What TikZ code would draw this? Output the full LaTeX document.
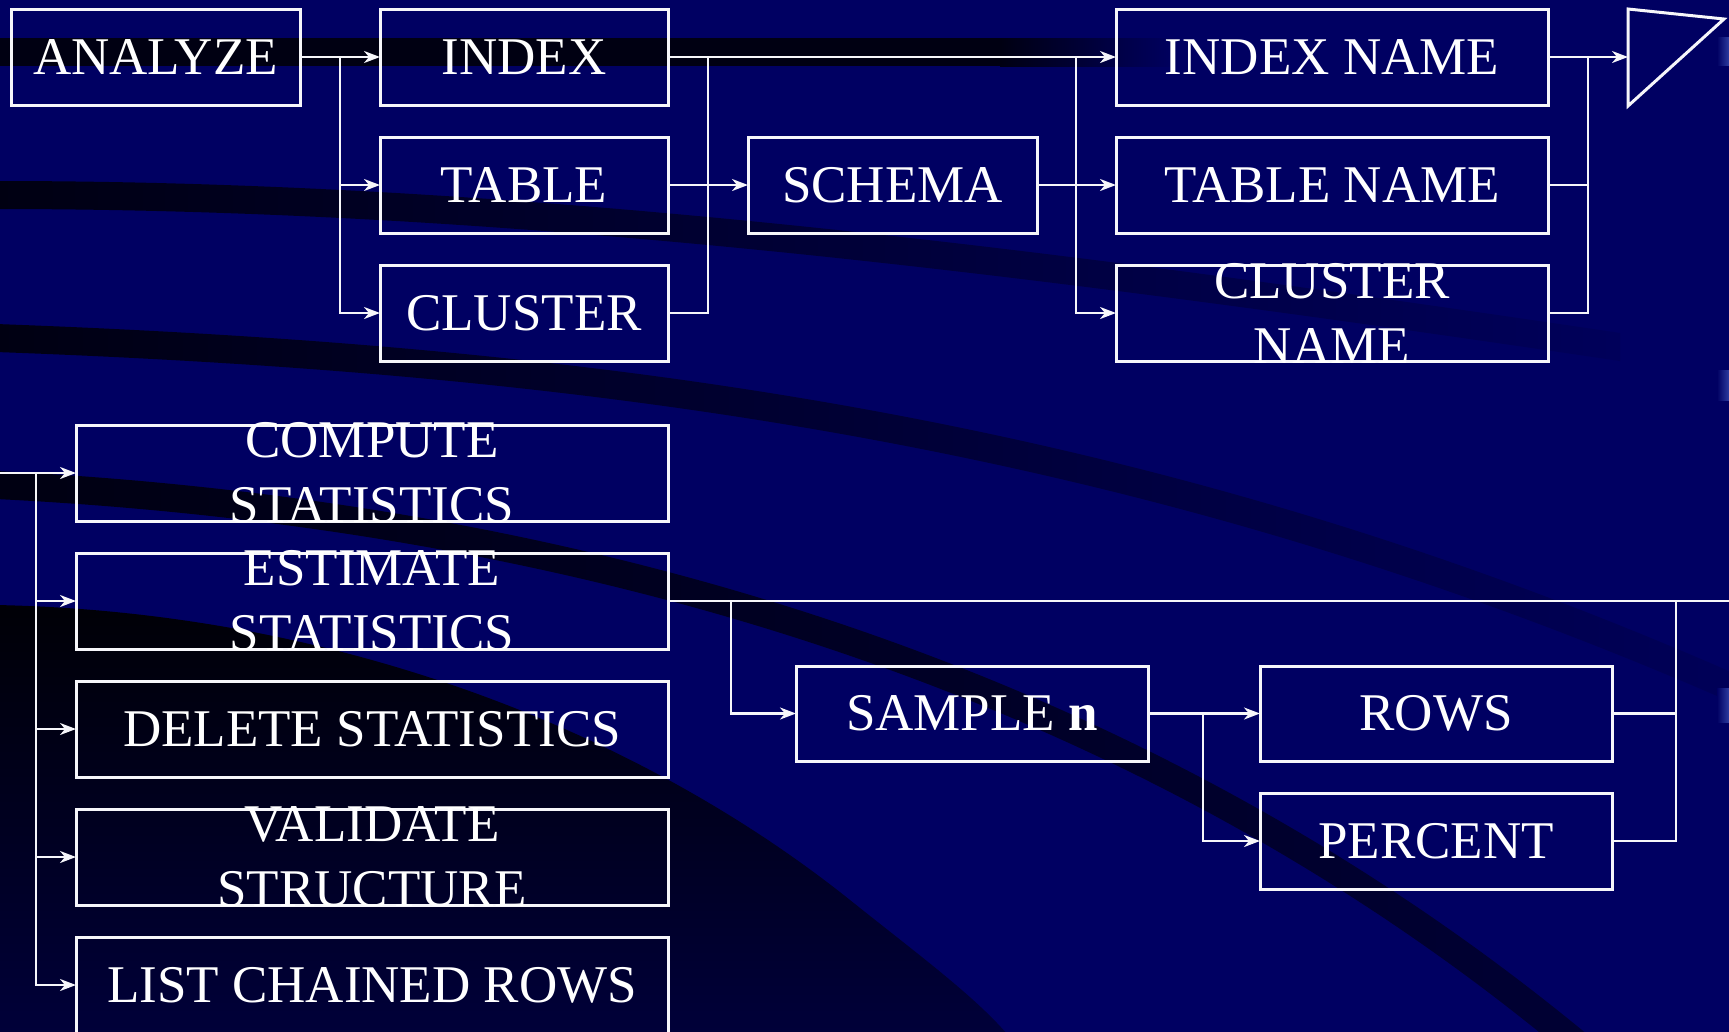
\documentclass[tikz,border=0pt]{standalone}
\usepackage{fontspec}
\setmainfont{Liberation Serif}
\usetikzlibrary{arrows.meta}
\definecolor{bg}{RGB}{0,0,98}
\definecolor{bandblack}{RGB}{0,0,18}
\definecolor{banddark}{RGB}{0,0,52}
\definecolor{deep}{RGB}{0,0,6}
\definecolor{lowdark}{RGB}{0,0,58}
\definecolor{marklight}{RGB}{60,80,180}
\definecolor{lineW}{RGB}{246,246,250}
\tikzset{
  boxst/.style={draw=lineW, line width=3pt, inner sep=0pt, outer sep=0pt},
  txt/.style={text=white, font=\fontsize{53}{65}\selectfont, align=center, inner sep=0pt},
  conn/.style={draw=lineW, line width=2.4pt},
  arr/.style={conn, -{Stealth[length=16pt,width=12pt,inset=5pt]}},
}
\newcommand\mkbox[6]{%
  \node[boxst, minimum width={#4-#2}, minimum height={#5-#3}] (#1) at ({(#2+#4)/2},{(#3+#5)/2}) {};
  \node[txt] (#1t) at (#1.center) {#6};}
\begin{document}
\begin{tikzpicture}[x=1pt,y=-1pt]
\begin{scope}
\clip (-4,-4) rectangle (1733,1035);
\fill[bg] (-4,-4) rectangle (1733,1035);
% background swooshes
\fill[bandblack] (-4,38) rectangle (1000,66);
\shade[left color=bandblack, right color=bg] (1000,38) rectangle (1180,66);
\shade[left color=bandblack, middle color=bandblack!75!bg, right color=bg!92!black]
  (-4,181) .. controls (500,181) and (1000,241) .. (1620,333) -- (1620,361)
  .. controls (1000,269) and (500,209) .. (-4,209) -- cycle;
\shade[left color=bandblack, middle color=bandblack!65!bg, right color=bg!90!black]
  (-4,324) .. controls (600,346) and (1150,416) .. (1740,676) -- (1740,706)
  .. controls (1150,446) and (600,374) .. (-4,352) -- cycle;
\shade[left color=bandblack, right color=banddark]
  (-4,471) .. controls (500,496) and (1100,626) .. (1600,1045) -- (1555,1045)
  .. controls (1080,654) and (500,524) .. (-4,499) -- cycle;
\shade[top color=deep, bottom color=lowdark]
  (-4,605) .. controls (350,612) and (650,740) .. (850,900)
  .. controls (920,956) and (980,1000) .. (1012,1040) -- (-4,1040) -- cycle;
\shade[left color=bg, right color=marklight] (1717,37) rectangle (1733,65);
\shade[left color=bg, right color=marklight] (1717,370) rectangle (1733,400);
\shade[left color=bg, right color=marklight] (1717,688) rectangle (1733,722);
% boxes
\mkbox{analyze}{11}{9}{300}{105}{ANALYZE}
\mkbox{index}{380}{9}{668}{105}{INDEX}
\mkbox{table}{380}{137}{668}{233}{TABLE}
\mkbox{cluster}{380}{265}{668}{361}{CLUSTER}
\mkbox{schema}{748}{137}{1037}{233}{SCHEMA}
\mkbox{indexname}{1116}{9}{1548}{105}{INDEX NAME}
\mkbox{tablename}{1116}{137}{1548}{233}{TABLE NAME}
\mkbox{clustername}{1116}{265}{1548}{361}{CLUSTER\\NAME}
\mkbox{compute}{76}{425}{668}{521}{COMPUTE\\STATISTICS}
\mkbox{estimate}{76}{553}{668}{649}{ESTIMATE\\STATISTICS}
\mkbox{delete}{76}{681}{668}{777}{DELETE STATISTICS}
\mkbox{validate}{76}{809}{668}{905}{VALIDATE\\STRUCTURE}
\mkbox{list}{76}{937}{668}{1033}{LIST CHAINED ROWS}
\mkbox{sample}{796}{666}{1148}{761}{SAMPLE \textbf{n}}
\mkbox{rows}{1260}{666}{1612}{761}{ROWS}
\mkbox{percent}{1260}{793}{1612}{889}{PERCENT}
% end triangle
\draw[lineW, line width=3pt, line join=miter] (1628,9) -- (1724,19) -- (1628,106) -- cycle;
\coordinate (tri) at (1628,57);
% junctions
\coordinate (j1) at (340,57);
\coordinate (j2) at (708,57);
\coordinate (j3) at (1076,57);
\coordinate (j4) at (1588,57);
\coordinate (l0) at (-4,473);
\coordinate (j5) at (36,473);
\coordinate (r0) at (1733,601);
\coordinate (j6) at (731,601);
\coordinate (j7) at (1203,713.5);
\coordinate (j8) at (1676,601);
% top connectors
\draw[arr] (analyze.east) -- (index.west);
\draw[arr] (j1) |- (table.west);
\draw[arr] (j1) |- (cluster.west);
\draw[arr] (index.east) -- (indexname.west);
\draw[conn] (cluster.east) -| (j2);
\draw[arr] (table.east) -- (schema.west);
\draw[arr] (schema.east) -- (tablename.west);
\draw[arr] (j3) |- (clustername.west);
\draw[conn] (tablename.east) -| (j4);
\draw[conn] (clustername.east) -| (j4);
\draw[arr] (indexname.east) -- (tri);
% lower connectors
\draw[arr] (l0) -- (compute.west);
\draw[arr] (j5) |- (estimate.west);
\draw[arr] (j5) |- (delete.west);
\draw[arr] (j5) |- (validate.west);
\draw[arr] (j5) |- (list.west);
\draw[conn] (estimate.east) -- (r0);
\draw[arr] (j6) |- (sample.west);
\draw[arr] (sample.east) -- (rows.west);
\draw[arr] (j7) |- (percent.west);
\draw[conn] (rows.east) -| (j8);
\draw[conn] (percent.east) -| (j8);
\end{scope}
\pgfresetboundingbox
\useasboundingbox (0,0) rectangle (1729,1031);
\end{tikzpicture}
\end{document}
